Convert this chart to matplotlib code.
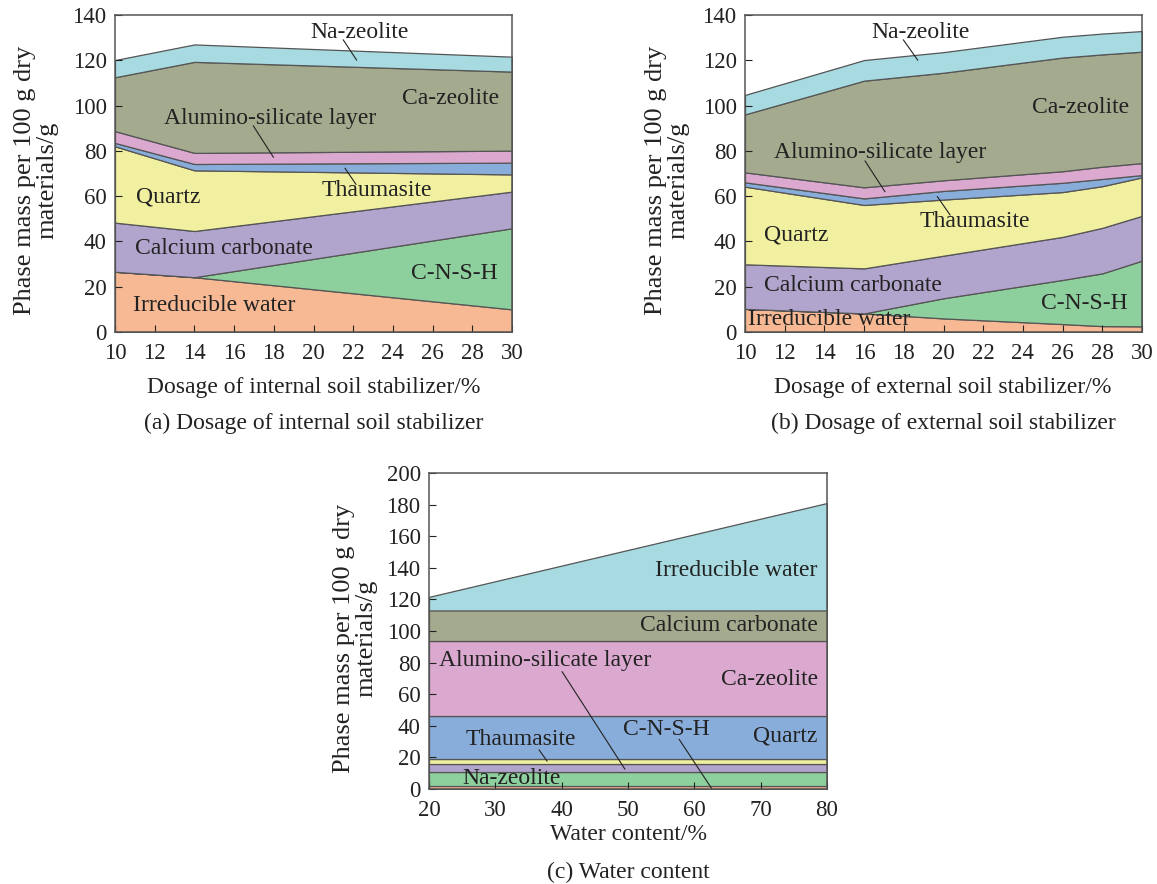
import matplotlib.pyplot as plt

plt.rcParams['font.family'] = ['Liberation Serif', 'DejaVu Serif']
plt.rcParams['font.size'] = 17

# layer colours, bottom to top
layer_colors = ['#f7b993', '#8ecf9e', '#b2a5cd', '#f1f0a0',
                '#89adda', '#dba9cf', '#a4aa8e', '#a7dbe1']
edge_color = '#555555'

# (a) dosage of internal soil stabilizer
x_a = [10, 14, 30]
water_a = [26.6, 24.2, 10.0]
cnsh_a = [0.0, 0.0, 35.8]
caco3_a = [21.7, 20.4, 16.2]
quartz_a = [33.7, 26.8, 7.6]
thaum_a = [1.5, 2.8, 5.2]
alum_a = [5.2, 4.9, 5.3]
cazeo_a = [23.8, 40.2, 34.9]
nazeo_a = [7.6, 7.7, 6.6]

# (b) dosage of external soil stabilizer
x_b = [10, 16, 20, 26, 28, 30]
water_b = [10.2, 8.2, 6.0, 3.5, 2.6, 2.5]
cnsh_b = [0.0, 0.0, 8.9, 19.5, 23.3, 29.0]
caco3_b = [19.7, 19.9, 18.8, 19.0, 20.1, 19.8]
quartz_b = [34.3, 28.0, 24.8, 19.8, 18.4, 17.0]
thaum_b = [1.9, 2.9, 3.8, 4.1, 3.2, 1.0]
alum_b = [4.4, 4.9, 4.7, 5.1, 5.4, 5.3]
cazeo_b = [25.6, 47.1, 47.5, 50.2, 49.6, 49.2]
nazeo_b = [8.6, 9.1, 9.1, 9.2, 9.2, 9.1]

# (c) water content
x_c = [20, 80]
cnsh_c = [1.9, 1.9]
nazeo_c = [8.6, 8.6]
alum_c = [5.3, 5.3]
thaum_c = [3.4, 3.4]
quartz_c = [27.0, 27.0]
cazeo_c = [47.2, 47.2]
caco3_c = [19.6, 19.6]
water_c = [8.6, 68.0]

W, H = 1157, 884
fig = plt.figure(figsize=(W / 100, H / 100), dpi=100)


def add_axes(left, top, right, bottom):
    return fig.add_axes([left / W, 1 - bottom / H, (right - left) / W, (bottom - top) / H])


def draw_panel(ax, x, layers, xticks, yticks):
    ax.stackplot(x, *layers, colors=layer_colors, edgecolor=edge_color, linewidth=0.9)
    ax.set_xlim(xticks[0], xticks[-1])
    ax.set_ylim(yticks[0], yticks[-1])
    ax.set_xticks(xticks)
    ax.set_yticks(yticks)
    ax.tick_params(direction='in', length=5, width=0.8, colors='#222222', labelsize=16.5)
    ax.tick_params(axis='x', pad=8)
    ax.tick_params(axis='y', pad=6)
    for s in ax.spines.values():
        s.set_color('#555555')
        s.set_linewidth(1.1)


def label(ax, x, y, s, line=None, ha='center'):
    ax.text(x, y, s, ha=ha, va='center', color='#222222', fontsize=17)
    if line is not None:
        ax.plot(line[0], line[1], color='#222222', lw=0.8)


# panel (a)
ax_a = add_axes(115, 15, 512, 332)
draw_panel(ax_a, x_a, [water_a, cnsh_a, caco3_a, quartz_a, thaum_a, alum_a, cazeo_a, nazeo_a],
           list(range(10, 31, 2)), list(range(0, 141, 20)))
label(ax_a, 22.3, 132.4, 'Na-zeolite', ([21.5, 22.17], [129, 120.1]))
label(ax_a, 26.9, 103.2, 'Ca-zeolite')
label(ax_a, 17.8, 94.4, 'Alumino-silicate layer', ([16.97, 17.98], [91.0, 77.2]))
label(ax_a, 23.2, 62.4, 'Thaumasite', ([21.59, 22.14], [72.3, 65.2]))
label(ax_a, 12.7, 59.8, 'Quartz')
label(ax_a, 15.5, 37.0, 'Calcium carbonate')
label(ax_a, 27.1, 25.9, 'C-N-S-H')
label(ax_a, 15.0, 11.6, 'Irreducible water')

# panel (b)
ax_b = add_axes(745, 15, 1142, 332)
draw_panel(ax_b, x_b, [water_b, cnsh_b, caco3_b, quartz_b, thaum_b, alum_b, cazeo_b, nazeo_b],
           list(range(10, 31, 2)), list(range(0, 141, 20)))
label(ax_b, 18.85, 132.4, 'Na-zeolite', ([17.98, 18.70], [129, 120.1]))
label(ax_b, 26.9, 99.2, 'Ca-zeolite')
label(ax_b, 16.8, 79.2, 'Alumino-silicate layer', ([16.05, 17.05], [75.5, 62.0]))
label(ax_b, 21.6, 48.7, 'Thaumasite', ([19.69, 20.33], [59.8, 51.7]))
label(ax_b, 12.6, 42.8, 'Quartz')
label(ax_b, 15.46, 20.5, 'Calcium carbonate')
label(ax_b, 27.1, 12.4, 'C-N-S-H')
label(ax_b, 10.15, 5.6, 'Irreducible water', ha='left')

# panel (c)
ax_c = add_axes(429, 473, 827, 789)
draw_panel(ax_c, x_c, [cnsh_c, nazeo_c, alum_c, thaum_c, quartz_c, cazeo_c, caco3_c, water_c],
           list(range(20, 81, 10)), list(range(0, 201, 20)))
label(ax_c, 78.6, 138.5, 'Irreducible water', ha='right')
label(ax_c, 78.6, 103.3, 'Calcium carbonate', ha='right')
label(ax_c, 37.5, 81.1, 'Alumino-silicate layer', ([40.07, 49.53], [74.2, 12.6]))
label(ax_c, 78.6, 69.6, 'Ca-zeolite', ha='right')
label(ax_c, 55.8, 37.7, 'C-N-S-H', ([57.72, 62.6], [31.4, 0.4]))
label(ax_c, 78.6, 33.5, 'Quartz', ha='right')
label(ax_c, 33.9, 31.4, 'Thaumasite', ([36.6, 37.8], [24.7, 17.7]))
label(ax_c, 32.4, 6.8, 'Na-zeolite')

# axis titles and captions
ylab = 'Phase mass per 100 g dry\nmaterials/g'
for cx, cy in [(36, 180), (667, 180), (355, 638)]:
    fig.text(cx / W, 1 - cy / H, ylab, rotation=90, ha='center', va='center',
             multialignment='center', linespacing=1.0, color='#222222', fontsize=19)

fig.text(314 / W, 1 - 387 / H, 'Dosage of internal soil stabilizer/%', ha='center', va='center', color='#222222')
fig.text(943 / W, 1 - 387 / H, 'Dosage of external soil stabilizer/%', ha='center', va='center', color='#222222')
fig.text(628 / W, 1 - 834 / H, 'Water content/%', ha='center', va='center', color='#222222')

fig.text(314 / W, 1 - 423 / H, '(a) Dosage of internal soil stabilizer', ha='center', va='center', color='#222222')
fig.text(943 / W, 1 - 423 / H, '(b) Dosage of external soil stabilizer', ha='center', va='center', color='#222222')
fig.text(628 / W, 1 - 872 / H, '(c) Water content', ha='center', va='center', color='#222222')

fig.savefig('out.png', dpi=100)
